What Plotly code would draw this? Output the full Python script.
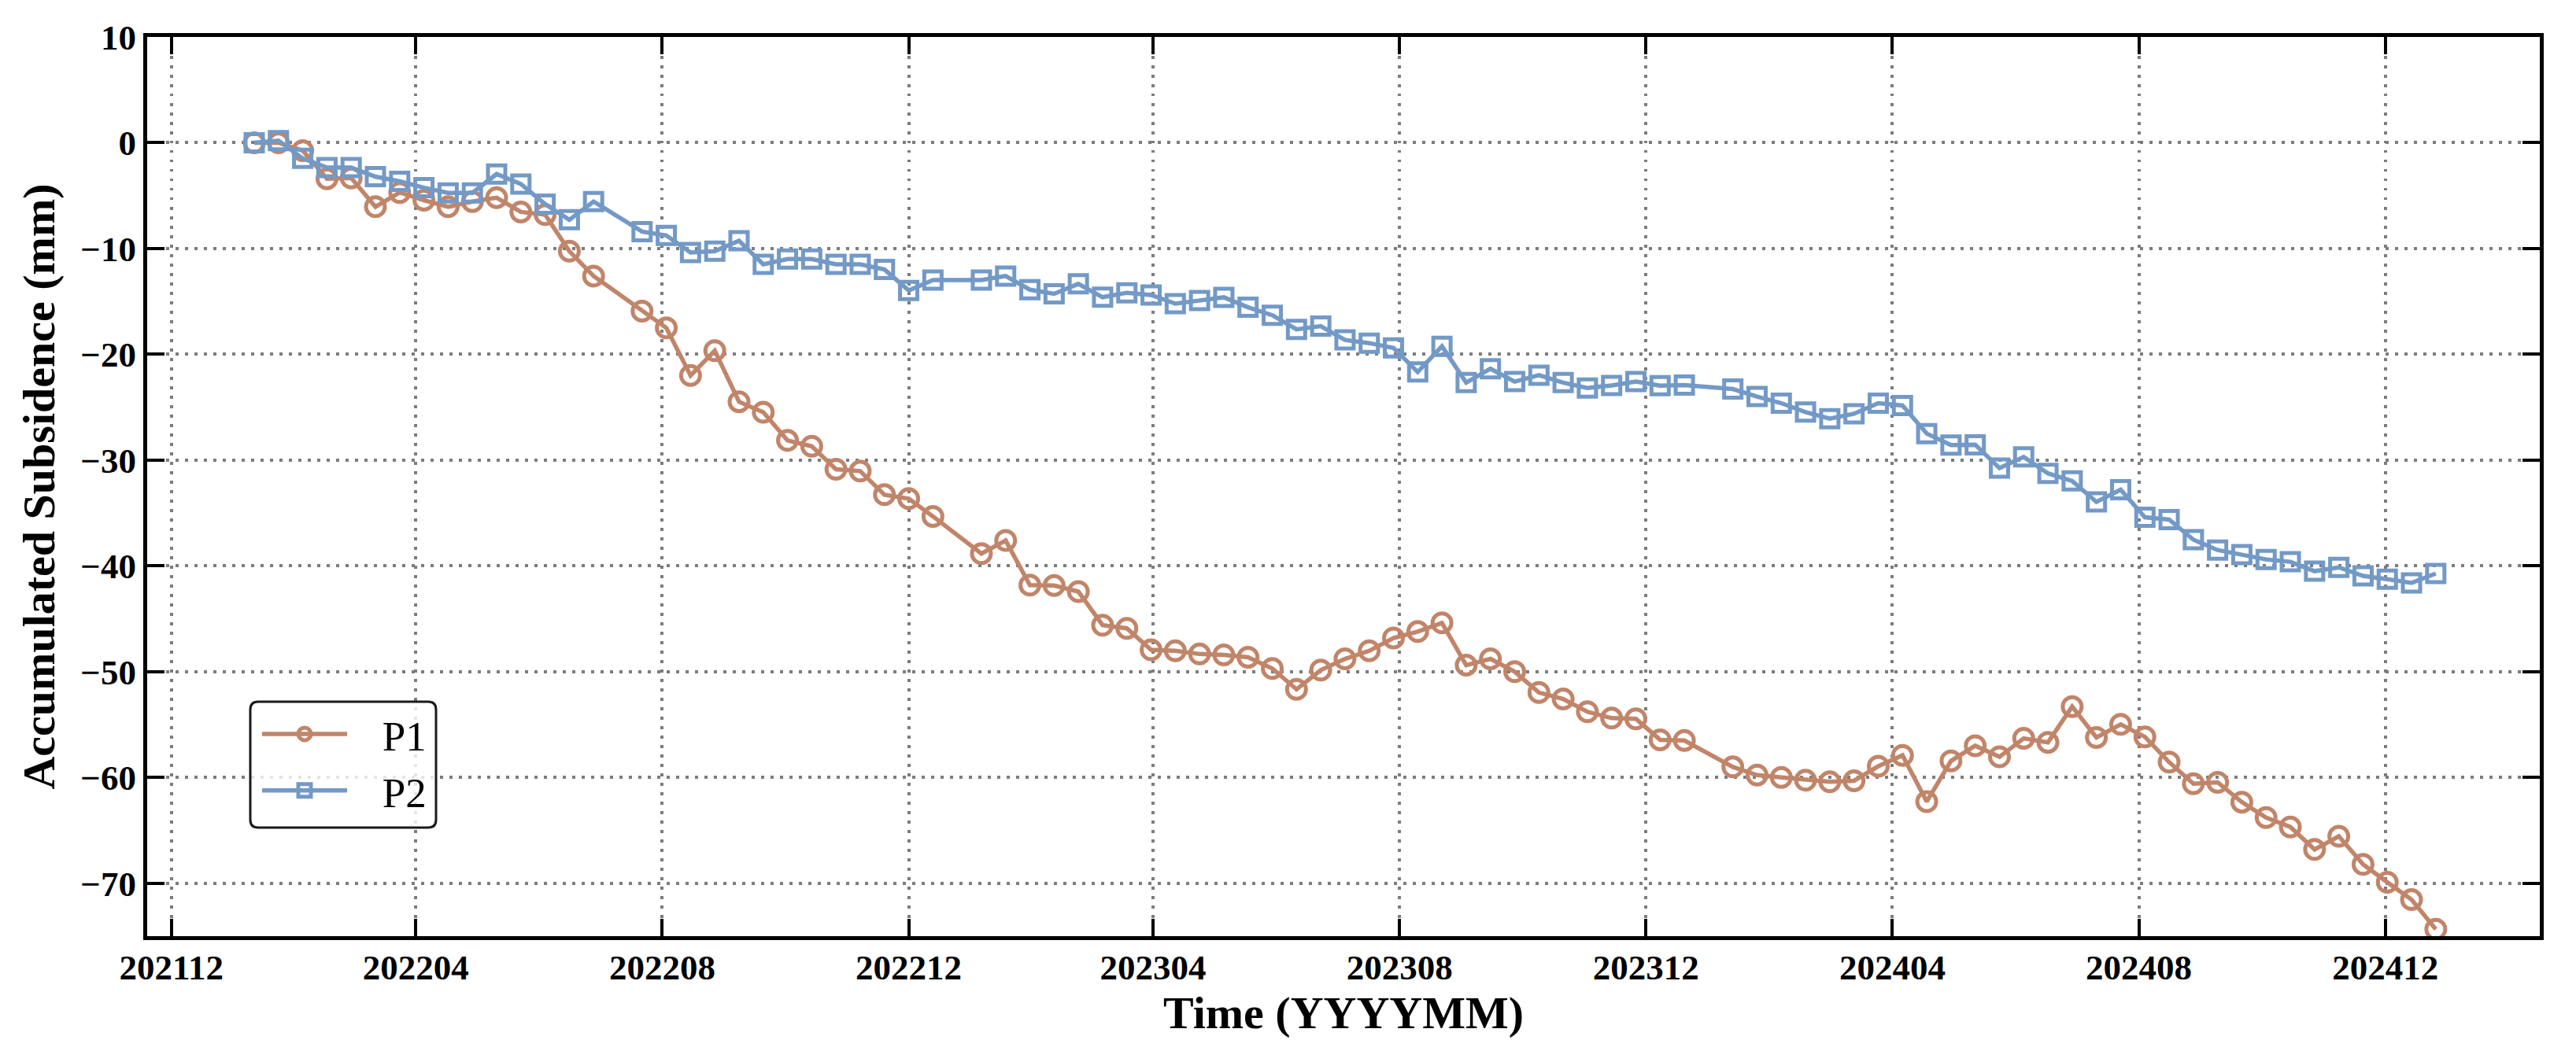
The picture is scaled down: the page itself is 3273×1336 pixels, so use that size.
"""
Accumulated subsidence time series for two points (P1, P2), 2022-2024.
"""

import plotly.graph_objects as go

# acquisition dates (12-day revisit, a few missing)
dates = [
    "2022-01-11", "2022-01-23", "2022-02-04", "2022-02-16", "2022-02-28", "2022-03-12",
    "2022-03-24", "2022-04-05", "2022-04-17", "2022-04-29", "2022-05-11", "2022-05-23",
    "2022-06-04", "2022-06-16", "2022-06-28", "2022-07-22", "2022-08-03", "2022-08-15",
    "2022-08-27", "2022-09-08", "2022-09-20", "2022-10-02", "2022-10-14", "2022-10-26",
    "2022-11-07", "2022-11-19", "2022-12-01", "2022-12-13",
    "2023-01-06", "2023-01-18", "2023-01-30", "2023-02-11", "2023-02-23", "2023-03-07",
    "2023-03-19", "2023-03-31", "2023-04-12", "2023-04-24", "2023-05-06", "2023-05-18",
    "2023-05-30", "2023-06-11", "2023-06-23", "2023-07-05", "2023-07-17", "2023-07-29",
    "2023-08-10", "2023-08-22", "2023-09-03", "2023-09-15", "2023-09-27", "2023-10-09",
    "2023-10-21", "2023-11-02", "2023-11-14", "2023-11-26", "2023-12-08", "2023-12-20",
    "2024-01-13", "2024-01-25", "2024-02-06", "2024-02-18", "2024-03-01", "2024-03-13",
    "2024-03-25", "2024-04-06", "2024-04-18", "2024-04-30", "2024-05-12", "2024-05-24",
    "2024-06-05", "2024-06-17", "2024-06-29", "2024-07-11", "2024-07-23", "2024-08-04",
    "2024-08-16", "2024-08-28", "2024-09-09", "2024-09-21", "2024-10-03", "2024-10-15",
    "2024-10-27", "2024-11-08", "2024-11-20", "2024-12-02", "2024-12-14", "2024-12-26",
]

# accumulated subsidence in mm
p1 = [
    0.0, 0.0, -0.74, -3.4, -3.33, -6.05, -4.7, -5.43, -6.05, -5.56, -5.19, -6.54, -6.79,
    -10.25, -12.6, -15.92, -17.5, -22.0, -19.65, -24.48, -25.47, -28.14, -28.69, -30.87,
    -31.04, -33.27, -33.64, -35.32,
    -38.84, -37.6, -41.81, -41.86, -42.43, -45.6, -45.9, -47.94, -48.03, -48.33, -48.42,
    -48.64, -49.7, -51.67, -49.85, -48.79, -48.03, -46.82, -46.21, -45.39, -49.39, -48.79,
    -50.0, -51.97, -52.58, -53.79, -54.39, -54.45, -56.44, -56.5,
    -59.0, -59.78, -60.0, -60.25, -60.41, -60.31, -58.94, -57.91, -62.28, -58.44, -57.0,
    -58.05, -56.3, -56.68, -53.3, -56.22, -54.98, -56.16, -58.55, -60.59, -60.46, -62.33,
    -63.79, -64.68, -66.81, -65.56, -68.22, -69.9, -71.55, -74.35,
]

p2 = [
    0.0, 0.2, -1.48, -2.35, -2.35, -3.2, -3.65, -4.25, -4.74, -4.74, -2.96, -3.9, -5.8,
    -7.28, -5.56, -8.4, -8.76, -10.37, -10.25, -9.26, -11.49, -10.99, -10.99, -11.49,
    -11.49, -11.98, -13.96, -12.97,
    -12.97, -12.6, -13.89, -14.28, -13.34, -14.6, -14.18, -14.39, -15.21, -14.91, -14.61,
    -15.55, -16.3, -17.64, -17.33, -18.64, -18.94, -19.39, -21.67, -19.24, -22.67, -21.36,
    -22.58, -21.97, -22.67, -23.18, -22.94, -22.57, -22.96, -22.9,
    -23.28, -23.99, -24.62, -25.46, -26.08, -25.62, -24.62, -24.84, -27.49, -28.58, -28.55,
    -30.75, -29.7, -31.25, -31.97, -33.95, -32.8, -35.4, -35.62, -37.52, -38.5, -38.94,
    -39.39, -39.61, -40.5, -40.14, -40.94, -41.25, -41.61, -40.72,
]

series_names = ["P1", "P2"]
colors = ["#C1856A", "#7399C6"]

FONT = "Liberation Serif"
W, H = 3273, 1336
ML, MR, MT, MB = 187, 46, 47, 146

fig = go.Figure()

fig.add_trace(go.Scatter(
    x=dates, y=p1, name="\u2002\u00a0" + series_names[0], mode="lines+markers",
    line=dict(color=colors[0], width=5.5),
    marker=dict(symbol="circle-open", size=24, color=colors[0], line=dict(width=5)),
))
fig.add_trace(go.Scatter(
    x=dates, y=p2, name="\u2002\u00a0" + series_names[1], mode="lines+markers",
    line=dict(color=colors[1], width=5.5),
    marker=dict(symbol="square-open", size=22, color=colors[1], line=dict(width=5)),
))

axis_common = dict(
    showline=True, linewidth=5, linecolor="black", mirror="ticks",
    ticks="inside", ticklen=22, tickwidth=4, tickcolor="black",
    showgrid=True, gridcolor="#7c7c7c", gridwidth=3.5, griddash="3.5px,8.5px",
    zeroline=False,
    tickfont=dict(family=FONT, size=45, color="black", weight="bold"),
)

fig.update_xaxes(
    type="date", range=["2021-11-19", "2025-02-15 12:00"],
    tick0="2021-12-01", dtick="M4", tickformat="%Y%m",
    ticklabelstandoff=-4,
    title=dict(text="Time (YYYYMM)", standoff=8,
               font=dict(family=FONT, size=58, color="black", weight="bold")),
    **axis_common,
)
fig.update_yaxes(
    range=[-75, 10], dtick=10,
    ticklabelstandoff=0,
    title=dict(text="Accumulated Subsidence (mm)", standoff=16,
               font=dict(family=FONT, size=58, color="black", weight="bold")),
    **axis_common,
)

# legend frame with rounded corners (paper coords of the plot area)
pw, ph = W - ML - MR, H - MT - MB
bx0, bx1 = (318 - ML) / pw, (554 - ML) / pw
by0, by1 = (H - MB - 1052) / ph, (H - MB - 892) / ph
rx, ry = 10 / pw, 10 / ph
frame = (
    f"M {bx0 + rx},{by0} L {bx1 - rx},{by0} Q {bx1},{by0} {bx1},{by0 + ry} "
    f"L {bx1},{by1 - ry} Q {bx1},{by1} {bx1 - rx},{by1} "
    f"L {bx0 + rx},{by1} Q {bx0},{by1} {bx0},{by1 - ry} "
    f"L {bx0},{by0 + ry} Q {bx0},{by0} {bx0 + rx},{by0} Z"
)
fig.add_shape(type="path", path=frame, xref="paper", yref="paper",
              line=dict(color="#1a1a1a", width=3),
              fillcolor="rgba(255,255,255,0.8)", layer="above")

fig.update_layout(
    width=W, height=H,
    margin=dict(l=ML, r=MR, t=MT, b=MB),
    plot_bgcolor="white", paper_bgcolor="white",
    font=dict(family=FONT, color="black"),
    legend=dict(
        x=bx0 + 10 / pw, y=by1, xanchor="left", yanchor="top",
        bgcolor="rgba(0,0,0,0)", borderwidth=0,
        font=dict(family=FONT, size=53, color="black"),
        itemwidth=108,
    ),
)

fig.write_html("out.html", config={"displayModeBar": False},
               post_script="document.body.style.margin='0';")
